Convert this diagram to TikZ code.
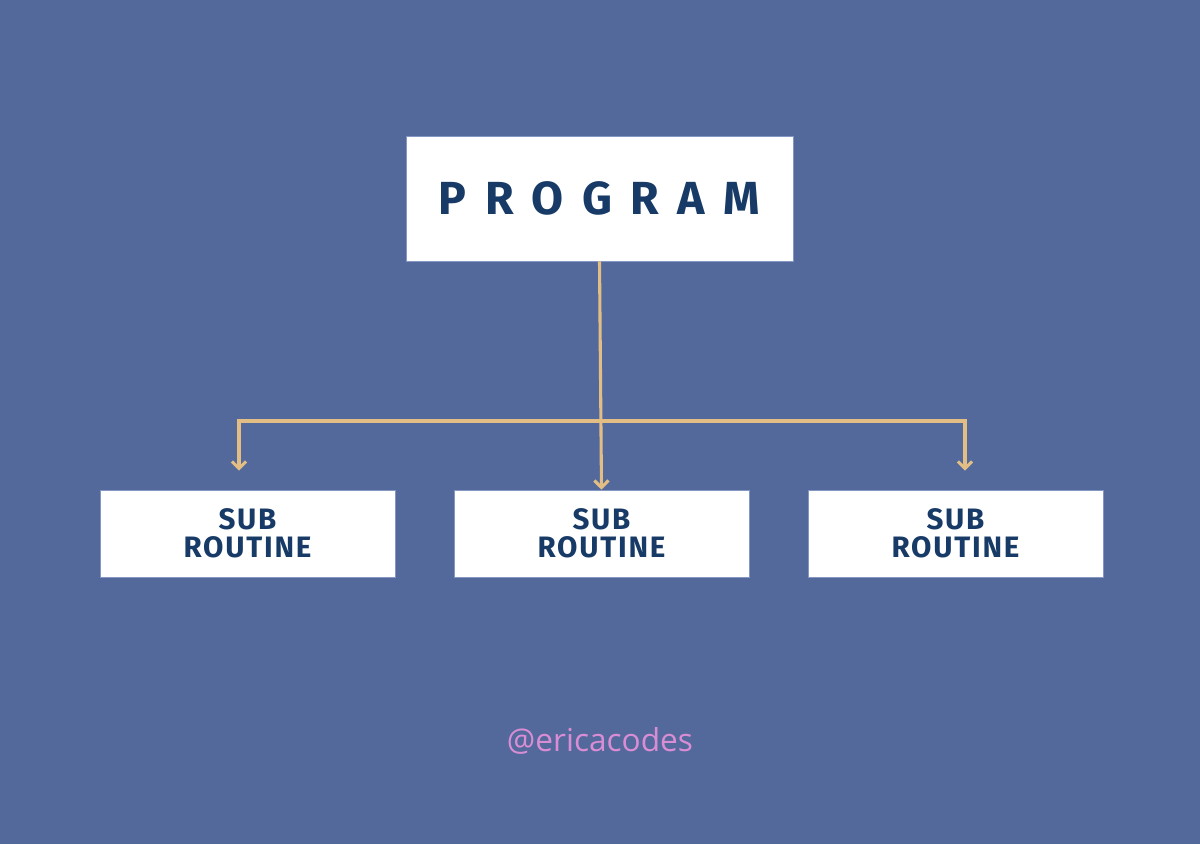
\documentclass[tikz,border=0pt]{standalone}
\usepackage{fontspec}
\usetikzlibrary{arrows.meta}
\newfontfamily\boxfont[LetterSpace=6]{Fira Sans}
\newfontfamily\progfont[LetterSpace=40]{Fira Sans}
\newfontfamily\handlefont{Open Sans}
\definecolor{bgblue}{HTML}{53699B}
\definecolor{navy}{HTML}{173A66}
\definecolor{sand}{HTML}{E2BE84}
\definecolor{orchid}{HTML}{D98DD4}
\definecolor{rim}{HTML}{8496C2}
\begin{document}
\begin{tikzpicture}[
        x=0.025cm, y=-0.025cm, % 1 unit = 1 px of the 1200x844 canvas
        link/.style = {draw=sand, line width=2.2pt, -{Straight Barb[length=5pt, width=10pt, line width=2.2pt]}},
        prog/.style = {fill=white, draw=rim, line width=0.4pt, minimum width=9.675cm, minimum height=3.125cm,
                inner sep=0pt, text=navy, font=\progfont\bfseries\fontsize{33}{36}\selectfont}, % top box
        sub/.style = {fill=white, draw=rim, line width=0.4pt, minimum width=7.375cm, minimum height=2.175cm,
                inner sep=0pt, align=center, text=navy, font=\boxfont\bfseries\fontsize{21}{20}\selectfont}, % lower boxes
    ]
    \fill[bgblue] (0,0) rectangle (1200,844);
    \useasboundingbox (0,0) rectangle (1200,844);

    \node[prog] (program) at (599.5,198.5) {PROGRAM};
    \node[sub] (sub1) at (247.5,533.5) {SUB\\ROUTINE};
    \node[sub] (sub2) at (601.5,533.5) {SUB\\ROUTINE};
    \node[sub] (sub3) at (955.5,533.5) {SUB\\ROUTINE};

    \coordinate (split) at (program.south |- 0,421);

    \draw[link] (program.south) -- (sub2.north);
    \draw[link, shorten >=0.475cm] (split) -| ([xshift=-0.2125cm]sub1.north);
    \draw[link, shorten >=0.475cm] (split) -| ([xshift=0.2375cm]sub3.north);

    \node[text=orchid, font=\handlefont\fontsize{22.5}{24}\selectfont] (handle) at (600,741) {@ericacodes};
\end{tikzpicture}
\end{document}
